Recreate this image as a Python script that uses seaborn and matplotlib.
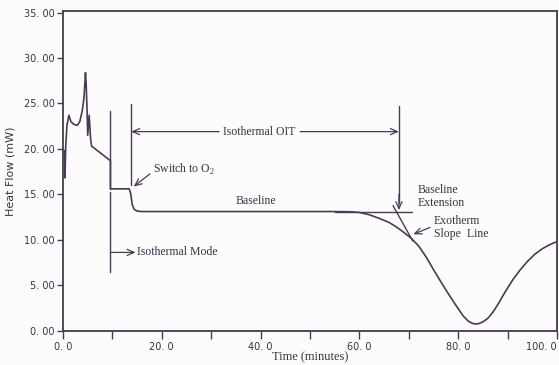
import matplotlib
matplotlib.use("Agg")
import matplotlib.pyplot as plt
import seaborn as sns
import pandas as pd

# DSC trace: heat flow vs time for an isothermal oxidation induction time run
time_min = [0.3, 0.4, 0.55, 0.8, 1.2, 1.6, 2.2, 2.9, 3.4, 3.9, 4.25, 4.55,
            4.7, 4.85, 5.0, 5.3, 5.6, 5.8, 9.6, 9.6, 13.4, 13.7, 14.0, 14.4,
            15.0, 16.0, 30.0, 45.0, 55.0, 58.0, 60.0, 62.0, 64.0, 66.0, 67.5,
            69.0, 70.5, 72.0, 73.5, 75.0, 76.5, 78.0, 79.5, 81.0, 82.0, 82.8,
            83.4, 84.1, 85.0, 86.0, 87.0, 88.0, 89.5, 91.0, 92.5, 94.0, 95.5,
            97.0, 98.5, 100.0]
heat_flow_mw = [19.8, 16.8, 20.3, 22.6, 23.7, 23.0, 22.7, 22.6, 23.0, 24.2,
                25.6, 28.4, 27.0, 24.6, 21.5, 23.7, 21.0, 20.3, 18.7, 15.6,
                15.6, 15.1, 13.9, 13.35, 13.15, 13.1, 13.1, 13.1, 13.1, 13.08,
                13.0, 12.75, 12.35, 11.9, 11.4, 10.8, 10.15, 9.3, 8.1, 6.7,
                5.35, 4.05, 2.8, 1.6, 1.05, 0.8, 0.72, 0.75, 0.95, 1.35, 2.0,
                2.85, 4.25, 5.55, 6.65, 7.6, 8.4, 9.0, 9.45, 9.8]

# event markers (minutes) and annotation levels (mW)
isothermal_start = 9.6
oxygen_switch = 13.8
oit_end = 68.0
baseline_level = 13.1
oit_arrow_level = 21.9
slope_line_t = [66.8, 70.8]
slope_line_hf = [13.75, 9.85]

y_ticks = [0, 5, 10, 15, 20, 25, 30, 35]
y_tick_labels = ["0. 00", "5. 00", "10. 00", "15. 00", "20. 00", "25. 00",
                 "30. 00", "35. 00"]
x_major = [0, 20, 40, 60, 80, 100]
x_major_labels = ["0. 0", "20. 0", "40. 0", "60. 0", "80. 0", "100. 0"]
x_minor = [10, 30, 50, 70, 90]

ink = "#4a3a52"
text_ink = "#3c3042"
serif = ["Liberation Serif", "DejaVu Serif"]

sns.set_style("white")
plt.rcParams["font.family"] = ["DejaVu Sans"]
plt.rcParams["mathtext.fontset"] = "custom"
plt.rcParams["mathtext.rm"] = "Liberation Serif"

fig = plt.figure(figsize=(5.59, 3.65), dpi=100, facecolor="#fdfcfd")
ax = fig.add_axes([0.1127, 0.0945, 0.8838, 0.8745])
ax.set_facecolor("#fdfcfd")

df = pd.DataFrame({"Time (minutes)": time_min, "Heat Flow (mW)": heat_flow_mw})
sns.lineplot(data=df, x="Time (minutes)", y="Heat Flow (mW)", sort=False,
             estimator=None, color=ink, lw=1.2, ax=ax)

line_kw = dict(color=ink, lw=1.0)
# vertical event markers
ax.plot([isothermal_start, isothermal_start], [24.2, 15.6], **line_kw)
ax.plot([isothermal_start, isothermal_start], [15.2, 6.4], **line_kw)
ax.plot([oxygen_switch, oxygen_switch], [24.9, 16.0], **line_kw)
# baseline extension and exotherm slope line
ax.plot([55.0, 70.6], [baseline_level, baseline_level], **line_kw)
ax.plot(slope_line_t, slope_line_hf, **line_kw)

arrow_kw = dict(arrowstyle="->,head_length=0.5,head_width=0.22", color=ink,
                lw=0.9, shrinkA=0, shrinkB=0)

# OIT span arrows
ax.annotate("", xy=(oxygen_switch, oit_arrow_level), xytext=(31.6, oit_arrow_level),
            arrowprops=arrow_kw)
ax.annotate("", xy=(oit_end, oit_arrow_level), xytext=(48.0, oit_arrow_level),
            arrowprops=arrow_kw)
ax.text(39.8, oit_arrow_level, "Isothermal OIT", family=serif, fontsize=8.5,
        color=text_ink, ha="center", va="center")
ax.plot([oit_end, oit_end], [24.7, 14.0], **line_kw)
ax.annotate("", xy=(oit_end, 13.25), xytext=(oit_end, 15.0), arrowprops=arrow_kw)

# isothermal mode
ax.annotate("", xy=(14.7, 8.6), xytext=(isothermal_start, 8.6), arrowprops=arrow_kw)
ax.text(14.9, 8.6, "Isothermal Mode", family=serif, fontsize=8.5,
        color=text_ink, ha="left", va="center")

# switch to oxygen
ax.annotate("", xy=(14.3, 15.85), xytext=(17.6, 17.25), arrowprops=arrow_kw)
ax.text(18.3, 17.7, "Switch to O$_\\mathrm{2}$", family=serif, fontsize=8.5,
        color=text_ink, ha="left", va="center")

ax.text(39.1, 14.25, "Baseline", family=serif, fontsize=8.5, color=text_ink,
        ha="center", va="center")
ax.text(71.7, 14.75, "Baseline\nExtension", family=serif, fontsize=8.5,
        color=text_ink, ha="left", va="center", linespacing=1.1)
ax.annotate("", xy=(70.9, 10.6), xytext=(74.3, 11.35), arrowprops=arrow_kw)
ax.text(75.1, 11.3, "Exotherm\nSlope  Line", family=serif, fontsize=8.5,
        color=text_ink, ha="left", va="center", linespacing=1.1)

ax.set_xlim(0, 100)
ax.set_ylim(0, 35.15)
ax.set_yticks(y_ticks)
ax.set_yticklabels(y_tick_labels)
ax.set_xticks(x_major)
ax.set_xticklabels(x_major_labels)
ax.set_xticks(x_minor, minor=True)
ax.tick_params(axis="y", which="major", direction="out", length=4, width=1,
               color=ink, labelsize=7, labelcolor=text_ink, pad=2, left=True)
ax.tick_params(axis="x", which="both", direction="out", length=6, width=1,
               color=ink, labelsize=7, labelcolor=text_ink, pad=2, bottom=True)
# keep the last time label inside the figure edge
ax.get_xticklabels()[-1].set_horizontalalignment("right")

for side in ["left", "right", "top", "bottom"]:
    ax.spines[side].set_visible(True)
    ax.spines[side].set_color(ink)
    ax.spines[side].set_linewidth(1.3)

ax.set_xlabel("Time (minutes)", family=serif, fontsize=9, color=text_ink,
              labelpad=0)
ax.set_ylabel("Heat Flow (mW)", fontsize=8, color=text_ink, labelpad=6)

fig.savefig("out.png", dpi=100, facecolor=fig.get_facecolor())
